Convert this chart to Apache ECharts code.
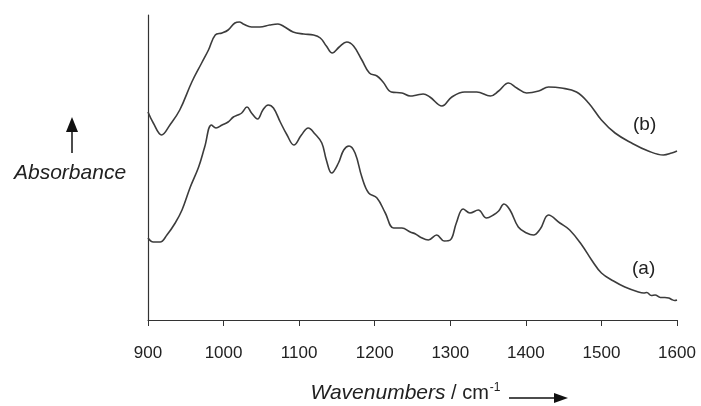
<!DOCTYPE html>
<html style="height: 100%">
<head>
<meta charset="utf-8">
</head>
<body style="height: 100%; margin: 0; background: #fff">
<div id="container" style="width: 701px; height: 406px"></div>
<script type="text/javascript" src="https://cdn.jsdelivr.net/npm/echarts@6/dist/echarts.min.js"></script>
<script type="text/javascript">
// spectrum (a): wavenumber / absorbance (arbitrary units)
var waveA = [900, 907, 916, 925, 936, 945, 956, 967, 975, 984, 990, 998, 1006, 1013, 1019, 1024,
    1031, 1037, 1045, 1052, 1059, 1066, 1075, 1084, 1093, 1103, 1112, 1121, 1130, 1136, 1143, 1152,
    1159, 1166, 1174, 1183, 1192, 1203, 1214, 1225, 1236, 1247, 1254, 1260, 1271, 1282, 1292, 1300,
    1308, 1317, 1326, 1337, 1348, 1357, 1364, 1371, 1379, 1390, 1401, 1410, 1419, 1430, 1445, 1458,
    1474, 1487, 1500, 1516, 1531, 1549, 1556, 1560, 1566, 1571, 1578, 1584, 1589, 1593, 1597, 1600];
var absA = [82, 78, 78, 85, 97, 110, 133, 153, 173, 195, 192, 195, 198, 203, 205, 207,
    213, 207, 201, 210, 215, 212, 198, 185, 175, 185, 192, 186, 177, 160, 147, 157,
    170, 174, 167, 143, 127, 122, 107, 92, 92, 88, 86, 83, 80, 85, 79, 80,
    97, 111, 107, 110, 102, 105, 109, 116, 110, 93, 87, 85, 91, 105, 97, 90,
    75, 60, 47, 39, 33, 28, 27, 27.5, 24.5, 25, 22.5, 22.5, 22, 20.5, 19.5, 20];

// spectrum (b)
var waveB = [900, 907, 918, 929, 942, 958, 971, 980, 989, 998, 1006, 1015, 1021, 1026, 1037, 1048,
    1061, 1072, 1081, 1092, 1106, 1119, 1128, 1136, 1144, 1153, 1163, 1172, 1183, 1193, 1203, 1211,
    1222, 1236, 1247, 1256, 1264, 1273, 1289, 1302, 1319, 1335, 1353, 1364, 1377, 1388, 1401, 1417,
    1430, 1447, 1467, 1483, 1500, 1518, 1540, 1562, 1582, 1593, 1600];
var absB = [208, 197, 185, 195, 210, 238, 257, 270, 285, 287, 290, 297, 298, 296, 293, 293,
    295, 296, 293, 288, 286, 285, 282, 274, 267, 273, 278, 274, 260, 247, 244, 238,
    228, 227, 224, 225, 226, 223, 214, 223, 228, 228, 224, 229, 237, 232, 227, 229,
    233, 232, 228, 217, 200, 187, 177, 169, 165, 167, 169];

var xTicks = [900, 1000, 1100, 1200, 1300, 1400, 1500, 1600];

function pairs(xs, ys) {
    var out = [];
    for (var i = 0; i < xs.length; i++) {
        out.push([xs[i], ys[i]]);
    }
    return out;
}

var myChart = echarts.init(document.getElementById('container'));
var lineColor = '#3c3c3c';
var font = 'Liberation Sans, Arial, sans-serif';

var option = {
    animation: false,
    grid: {left: 148, right: 24, top: 15, bottom: 86, outerBoundsMode: 'none'},
    xAxis: {
        type: 'value',
        min: xTicks[0],
        max: xTicks[xTicks.length - 1],
        interval: 100,
        axisLine: {lineStyle: {color: '#333', width: 1.2}},
        axisTick: {show: true, length: 6, lineStyle: {color: '#333'}},
        splitLine: {show: false},
        axisLabel: {
            margin: 25, fontSize: 17, color: '#222', fontFamily: font,
            formatter: function (v) { return String(v); }
        },
        name: '{i|Wavenumbers} / cm{sup|-1}',
        nameLocation: 'middle',
        nameGap: 62,
        nameTextStyle: {
            fontSize: 20, color: '#222', fontFamily: font, padding: [0, 0, 0, -14],
            rich: {
                i: {fontSize: 21, fontStyle: 'italic', color: '#222', fontFamily: font},
                sup: {fontSize: 12, color: '#222', fontFamily: font, verticalAlign: 'top', padding: [0, 0, 10, 1]}
            }
        }
    },
    yAxis: {
        type: 'value',
        min: 0,
        max: 305,
        axisLine: {show: true, lineStyle: {color: '#333', width: 1.2}},
        axisTick: {show: false},
        axisLabel: {show: false},
        splitLine: {show: false}
    },
    series: [
        {
            name: '(a)',
            type: 'line',
            data: pairs(waveA, absA),
            smooth: 0.4,
            showSymbol: false,
            lineStyle: {color: lineColor, width: 1.6}
        },
        {
            name: '(b)',
            type: 'line',
            data: pairs(waveB, absB),
            smooth: 0.4,
            showSymbol: false,
            lineStyle: {color: lineColor, width: 1.6}
        }
    ],
    graphic: [
        {type: 'text', left: 14, top: 163, style: {text: 'Absorbance', font: 'italic 21px ' + font, fill: '#222'}},
        {type: 'line', shape: {x1: 72, y1: 153, x2: 72, y2: 128}, style: {stroke: '#111', lineWidth: 1.5}},
        {type: 'polygon', shape: {points: [[72, 117], [66, 132], [78, 132]]}, style: {fill: '#111'}},
        {type: 'line', shape: {x1: 509, y1: 398, x2: 556, y2: 398}, style: {stroke: '#111', lineWidth: 1.5}},
        {type: 'polygon', shape: {points: [[568, 398], [554, 393], [554, 403]]}, style: {fill: '#111'}},
        {type: 'text', left: 633, top: 115, style: {text: '(b)', font: '19px ' + font, fill: '#222'}},
        {type: 'text', left: 632, top: 259, style: {text: '(a)', font: '19px ' + font, fill: '#222'}}
    ]
};

myChart.setOption(option, true);
</script>
</body>
</html>
